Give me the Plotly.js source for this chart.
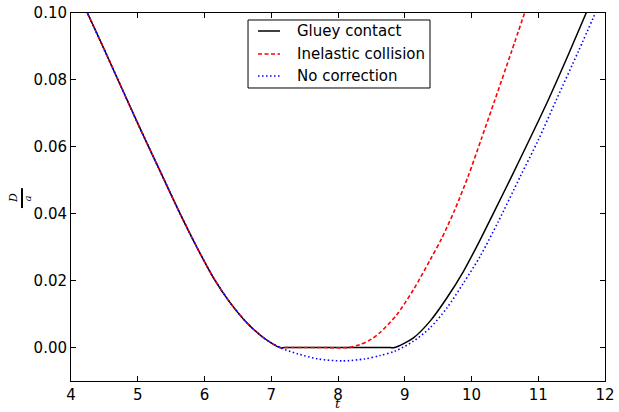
<!DOCTYPE html>
<html>
<head>
<meta charset="utf-8">
<script src="https://cdn.plot.ly/plotly-3.0.1.min.js"></script>
<style>html,body{margin:0;padding:0;background:#fff;}#chart{width:619px;height:412px;}</style>
</head>
<body>
<div id="chart"></div>
<script>
// Shared approach phase (all three models coincide)
const tApproach = [4.2, 4.5, 5.0, 5.38, 5.63, 5.88, 6.13, 6.38, 6.63, 6.88, 7.13];
const dApproach = [0.1020, 0.0890, 0.0670, 0.0508, 0.0402, 0.0302, 0.0210, 0.0135, 0.0075, 0.0030, 0.0];

// Gluey contact
const tGluey = [7.2, 8.0, 8.78, 8.85, 9.13, 9.38, 9.63, 9.88, 10.13, 10.35, 10.6, 11.15, 11.45, 11.75];
const dGluey = [0, 0, 0, 0, 0.0029, 0.0079, 0.0148, 0.0228, 0.0322, 0.0410, 0.0511, 0.0740, 0.0875, 0.1015];

// Inelastic collision
const tInelastic = [7.2, 7.8, 8.15, 8.33, 8.5, 8.63, 8.88, 9.13, 9.38, 9.55, 9.75, 9.95, 10.15, 10.35, 10.6, 10.82];
const dInelastic = [0, 0, 0, 0.0009, 0.0025, 0.0045, 0.0098, 0.0173, 0.0262, 0.0325, 0.0412, 0.0512, 0.0625, 0.0740, 0.0885, 0.1015];

// No correction
const tNone = [7.4, 7.7, 8.07, 8.4, 8.63, 8.85, 9.13, 9.38, 9.63, 9.88, 10.13, 10.4, 10.73, 11.0, 11.27, 11.6, 11.9];
const dNone = [-0.0019, -0.0034, -0.0040, -0.0034, -0.0024, -0.0011, 0.0019, 0.0059, 0.0118, 0.0193, 0.0273, 0.0376, 0.0511, 0.0620, 0.0740, 0.0885, 0.1020];

const seriesNames = ["Gluey contact", "Inelastic collision", "No correction"];
const xTicks = [4, 5, 6, 7, 8, 9, 10, 11, 12];
const yTicks = [0.00, 0.02, 0.04, 0.06, 0.08, 0.10];

const FONT = "DejaVu Sans, sans-serif";
const colors = ["#000000", "#ff0000", "#0000ff"];
const dashes = ["solid", "4px,2.5px", "1.5px,2.5px"];
const widths = [1.5, 1.6, 1.6];

const traces = [
  {x: tApproach.concat(tGluey), y: dApproach.concat(dGluey), name: seriesNames[0]},
  {x: tApproach.concat(tInelastic), y: dApproach.concat(dInelastic), name: seriesNames[1]},
  {x: tApproach.concat(tNone), y: dApproach.concat(dNone), name: seriesNames[2]}
].map((tr, i) => Object.assign(tr, {
  mode: "lines", showlegend: false,
  line: {color: colors[i], width: widths[i], dash: dashes[i], shape: "spline", smoothing: 0.8}
}));

const axisCommon = {
  ticks: "inside", ticklen: 5, tickwidth: 1, tickcolor: "#000",
  showline: true, linecolor: "#000", linewidth: 1, mirror: "ticks",
  showgrid: false, zeroline: false,
  tickfont: {family: FONT, size: 15, color: "#000"}
};

// Legend box drawn in paper coordinates (matplotlib-style legend)
const legendBox = {x0: 0.3315, x1: 0.6723, y0: 0.7962, y1: 0.9810};
const legendRows = [0.9511, 0.8886, 0.8288];
const legendShapes = [{type: "rect", xref: "paper", yref: "paper",
  x0: legendBox.x0, x1: legendBox.x1, y0: legendBox.y0, y1: legendBox.y1,
  fillcolor: "#fff", line: {color: "#000", width: 1}, layer: "above"}];
const legendTexts = [];
seriesNames.forEach((name, i) => {
  legendShapes.push({type: "line", xref: "paper", yref: "paper", x0: 0.3502, x1: 0.3914,
    y0: legendRows[i], y1: legendRows[i], layer: "above",
    line: {color: colors[i], width: widths[i], dash: dashes[i]}});
  legendTexts.push({text: name, xref: "paper", yref: "paper", x: 0.4195, y: legendRows[i],
    xanchor: "left", yanchor: "middle", showarrow: false,
    font: {family: FONT, size: 15, color: "#000"}});
});

const layout = {
  width: 619, height: 412,
  margin: {l: 71, r: 14, t: 13, b: 31},
  paper_bgcolor: "#fff", plot_bgcolor: "#fff",
  showlegend: false,
  xaxis: Object.assign({}, axisCommon, {range: [4, 12], tickvals: xTicks, ticktext: xTicks.map(String)}),
  yaxis: Object.assign({}, axisCommon, {range: [-0.01, 0.10], tickvals: yTicks, ticktext: yTicks.map(v => v.toFixed(2))}),
  annotations: [
    {text: "<i>t</i>", xref: "paper", yref: "paper", x: 0.5, y: -0.061, xanchor: "center", yanchor: "middle",
     showarrow: false, borderpad: 0, font: {family: "DejaVu Serif, serif", size: 13, color: "#000"}},
    {text: "<i>D</i>", xref: "paper", yref: "paper", x: -0.1086, y: 0.497, xanchor: "center", yanchor: "middle",
     textangle: -90, showarrow: false, font: {family: "DejaVu Serif, serif", size: 11, color: "#000"}},
    {text: "<i>a</i>", xref: "paper", yref: "paper", x: -0.0815, y: 0.497, xanchor: "center", yanchor: "middle",
     textangle: -90, showarrow: false, font: {family: "DejaVu Serif, serif", size: 10, color: "#000"}}
  ].concat(legendTexts),
  shapes: [
    {type: "line", xref: "paper", yref: "paper", x0: -0.0918, x1: -0.0918, y0: 0.470, y1: 0.524,
     line: {color: "#000", width: 2}}
  ].concat(legendShapes)
};

Plotly.newPlot("chart", traces, layout, {staticPlot: true, displayModeBar: false});
</script>
</body>
</html>
